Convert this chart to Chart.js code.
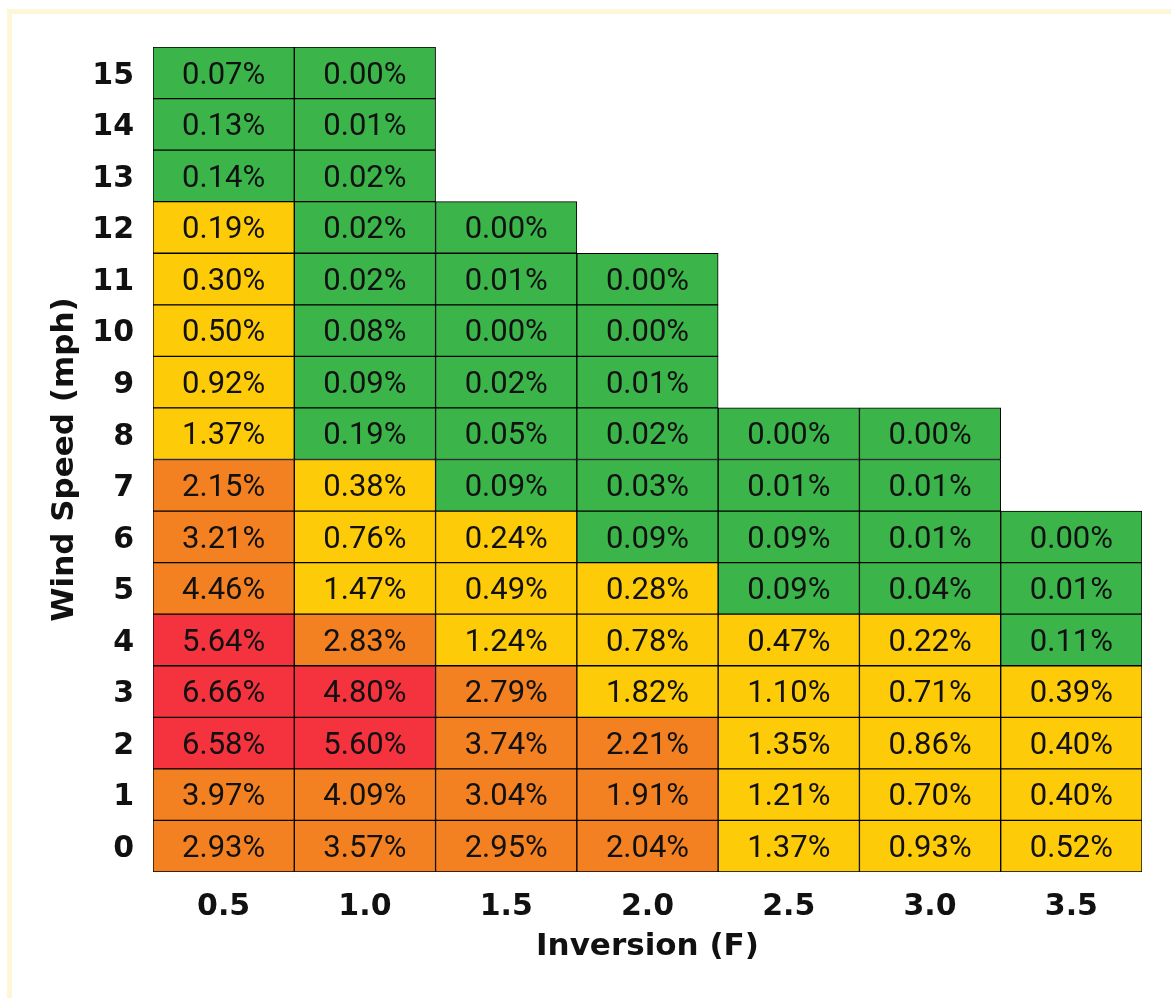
<!DOCTYPE html>
<html>
<head>
<meta charset="utf-8">
<script src="https://cdn.jsdelivr.net/npm/chart.js@4/dist/chart.umd.min.js"></script>
<style>
  html, body { margin: 0; padding: 0; background: #ffffff; overflow: hidden; }
  #frame { position: absolute; left: 7px; top: 9px; width: 1300px; height: 1200px; border: 5px solid #fdf6d8; box-sizing: border-box; }
  #wrap { position: absolute; left: 0; top: 0; width: 1171px; height: 998px; }
</style>
</head>
<body>
<div id="frame"></div>
<div id="wrap"><canvas id="c" width="1171" height="998"></canvas></div>
<script>
// Inversion (F) categories along x
const inversions = ['0.5', '1.0', '1.5', '2.0', '2.5', '3.0', '3.5'];
// Wind speed (mph) rows along y
const windSpeeds = [0, 1, 2, 3, 4, 5, 6, 7, 8, 9, 10, 11, 12, 13, 14, 15];

// Percentages per inversion column, indexed by wind speed 0..15 (null = no cell)
const inv05 = [2.93, 3.97, 6.58, 6.66, 5.64, 4.46, 3.21, 2.15, 1.37, 0.92, 0.50, 0.30, 0.19, 0.14, 0.13, 0.07];
const inv10 = [3.57, 4.09, 5.60, 4.80, 2.83, 1.47, 0.76, 0.38, 0.19, 0.09, 0.08, 0.02, 0.02, 0.02, 0.01, 0.00];
const inv15 = [2.95, 3.04, 3.74, 2.79, 1.24, 0.49, 0.24, 0.09, 0.05, 0.02, 0.00, 0.01, 0.00, null, null, null];
const inv20 = [2.04, 1.91, 2.21, 1.82, 0.78, 0.28, 0.09, 0.03, 0.02, 0.01, 0.00, 0.00, null, null, null, null];
const inv25 = [1.37, 1.21, 1.35, 1.10, 0.47, 0.09, 0.09, 0.01, 0.00, null, null, null, null, null, null, null];
const inv30 = [0.93, 0.70, 0.86, 0.71, 0.22, 0.04, 0.01, 0.01, 0.00, null, null, null, null, null, null, null];
const inv35 = [0.52, 0.40, 0.40, 0.39, 0.11, 0.01, 0.00, null, null, null, null, null, null, null, null, null];
const values = [inv05, inv10, inv15, inv20, inv25, inv30, inv35];

// Risk level shown by each cell's colour (0 green, 1 yellow, 2 orange, 3 red)
const lvl05 = [2, 2, 3, 3, 3, 2, 2, 2, 1, 1, 1, 1, 1, 0, 0, 0];
const lvl10 = [2, 2, 3, 3, 2, 1, 1, 1, 0, 0, 0, 0, 0, 0, 0, 0];
const lvl15 = [2, 2, 2, 2, 1, 1, 1, 0, 0, 0, 0, 0, 0, null, null, null];
const lvl20 = [2, 2, 2, 1, 1, 1, 0, 0, 0, 0, 0, 0, null, null, null, null];
const lvl25 = [1, 1, 1, 1, 1, 0, 0, 0, 0, null, null, null, null, null, null, null];
const lvl30 = [1, 1, 1, 1, 1, 0, 0, 0, 0, null, null, null, null, null, null, null];
const lvl35 = [1, 1, 1, 1, 0, 0, 0, null, null, null, null, null, null, null, null, null];
const levels = [lvl05, lvl10, lvl15, lvl20, lvl25, lvl30, lvl35];

const palette = ['#3bb44a', '#fecb08', '#f38122', '#f4333f'];

const datasets = windSpeeds.map(w => ({
  label: String(w),
  data: inversions.map((_, c) => values[c][w] === null ? null : [w - 0.5, w + 0.5]),
  backgroundColor: inversions.map((_, c) => levels[c][w] === null ? 'rgba(0,0,0,0)' : palette[levels[c][w]]),
  borderColor: '#000000',
  borderWidth: 1,
  borderSkipped: false,
  grouped: false,
  categoryPercentage: 1,
  barPercentage: 1
}));

const cellLabels = {
  id: 'cellLabels',
  afterDatasetsDraw(chart) {
    const ctx = chart.ctx;
    ctx.save();
    ctx.font = '31px Roboto';
    ctx.fillStyle = '#111111';
    ctx.textAlign = 'center';
    ctx.textBaseline = 'middle';
    chart.data.datasets.forEach((ds, di) => {
      const meta = chart.getDatasetMeta(di);
      const w = windSpeeds[di];
      meta.data.forEach((el, c) => {
        const v = values[c][w];
        if (v === null || v === undefined) return;
        const p = el.getProps(['x', 'y', 'base'], true);
        ctx.fillText(v.toFixed(2) + '%', p.x, (p.y + p.base) / 2 + 3);
      });
    });
    ctx.restore();
  }
};

new Chart(document.getElementById('c'), {
  type: 'bar',
  data: { labels: inversions, datasets },
  options: {
    responsive: false,
    devicePixelRatio: 1,
    animation: false,
    layout: { padding: { top: 47, right: 29, left: 0, bottom: 0 } },
    plugins: { legend: { display: false }, tooltip: { enabled: false } },
    scales: {
      x: {
        type: 'category',
        offset: true,
        grid: { display: false, drawTicks: false },
        border: { display: false },
        ticks: { color: '#111111', padding: 17, font: { family: 'DejaVu Sans', weight: 'bold', size: 30 } },
        title: { display: true, text: 'Inversion (F)', color: '#111111', padding: { top: 0, bottom: 32 }, font: { family: 'DejaVu Sans', weight: 'bold', size: 31 } },
        afterFit(scale) { scale.height = 126; }
      },
      y: {
        type: 'linear',
        min: -0.5,
        max: 15.5,
        stacked: false,
        grid: { display: false, drawTicks: false },
        border: { display: false },
        afterBuildTicks(scale) { scale.ticks = windSpeeds.map(v => ({ value: v })); },
        ticks: { color: '#111111', padding: 19, labelOffset: 3, autoSkip: false, font: { family: 'DejaVu Sans', weight: 'bold', size: 30 }, callback: v => String(v) },
        title: { display: true, text: 'Wind Speed (mph)', color: '#111111', padding: { top: 46, bottom: 0 }, font: { family: 'DejaVu Sans', weight: 'bold', size: 31 } },
        afterFit(scale) { scale.width = 153; }
      }
    }
  },
  plugins: [cellLabels]
});
</script>
</body>
</html>
